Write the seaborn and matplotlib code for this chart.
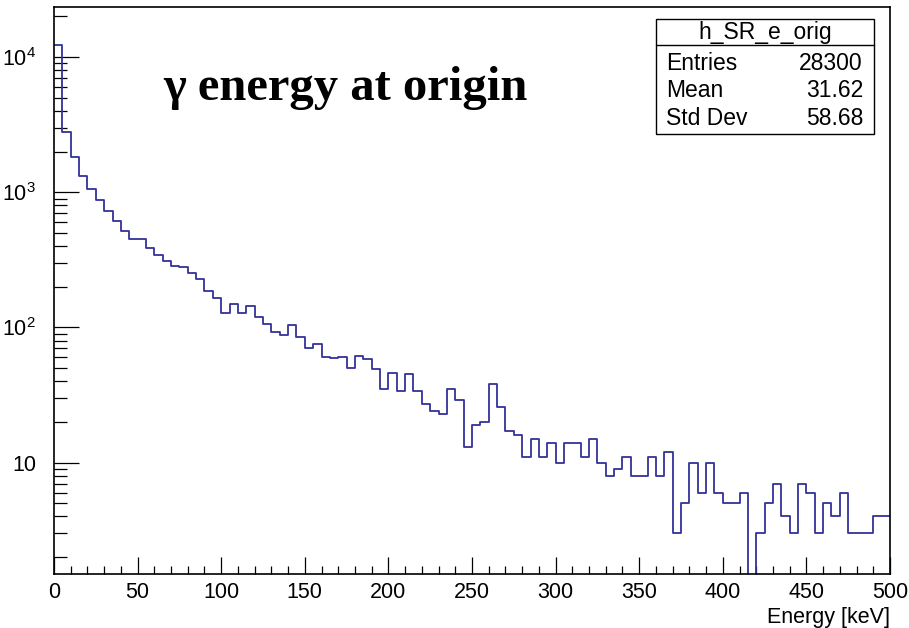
import numpy as np
import pandas as pd
import matplotlib
matplotlib.use("Agg")
import matplotlib.pyplot as plt
import seaborn as sns
from matplotlib.ticker import MultipleLocator, LogLocator, FixedLocator, FuncFormatter, NullFormatter
from matplotlib.patches import Rectangle
from matplotlib.lines import Line2D

# ---- data ----
bin_edges = list(range(0, 505, 5))  # 100 bins of 5 keV
counts = [12400, 2790, 1830, 1320, 1050, 870, 730, 615, 521, 448,
          455, 388, 345, 310, 286, 278, 252, 230, 185, 166,
          128, 150, 128, 145, 120, 106, 92, 88, 105, 85,
          71, 76, 60, 59, 60, 50, 62, 58, 49, 35,
          46, 34, 45, 34, 27, 24, 23, 35, 29, 13,
          19, 20, 38, 26, 17, 16, 11, 15, 11, 14,
          10, 14, 14, 11, 15, 10, 8, 9, 11, 8,
          8, 11, 8, 12, 3, 5, 10, 6, 10, 6,
          5, 5, 6, 0, 3, 5, 7, 4, 3, 7,
          6, 3, 5, 4, 6, 3, 3, 3, 4, 4]
title_text = "\u03b3 energy at origin"
stats_name = "h_SR_e_orig"
stats_labels = ["Entries", "Mean", "Std Dev"]
stats_values = ["28300", "31.62", "58.68"]
x_ticks = [0, 50, 100, 150, 200, 250, 300, 350, 400, 450, 500]
y_ticks = [10, 100, 1000, 10000]

edges = np.array(bin_edges, dtype=float)
centers = (edges[:-1] + edges[1:]) / 2
df = pd.DataFrame({"energy": centers, "n": np.array(counts, dtype=float)})

sns.set_theme(style="white")
plt.rcParams["font.family"] = ["Liberation Sans", "DejaVu Sans"]
plt.rcParams["mathtext.fontset"] = "custom"
plt.rcParams["mathtext.rm"] = "Liberation Sans"
plt.rcParams["mathtext.it"] = "Liberation Sans:italic"
plt.rcParams["mathtext.default"] = "regular"
for k in ["text.color", "axes.labelcolor", "xtick.color", "ytick.color",
          "xtick.labelcolor", "ytick.labelcolor"]:
    plt.rcParams[k] = "black"

W, H = 909, 628
fig = plt.figure(figsize=(W / 100, H / 100), dpi=100)
ax = fig.add_axes([54 / W, 1 - 574 / H, (890 - 54) / W, (574 - 7) / H])

sns.histplot(data=df, x="energy", weights="n", bins=bin_edges, element="step",
             fill=False, color="#333399", linewidth=1.3, ax=ax)
ax.set_yscale("log", nonpositive="clip")
ax.set_xlim(0, 500)
ax.set_ylim(1.5, 23500)

ax.set_ylabel("")
ax.set_xlabel("Energy [keV]", loc="right", fontsize=15.5, labelpad=3, color="black")

ax.xaxis.set_major_locator(FixedLocator(x_ticks))
ax.xaxis.set_minor_locator(MultipleLocator(10))
ax.yaxis.set_major_locator(FixedLocator(y_ticks))
ax.yaxis.set_minor_locator(LogLocator(base=10, subs=np.arange(2, 10)))
ax.yaxis.set_minor_formatter(NullFormatter())
ax.yaxis.set_major_formatter(FuncFormatter(
    lambda v, p: "10" if abs(v - 10) < 1e-6 else r"$10^{%d}$" % round(np.log10(v))))

ax.tick_params(axis="x", which="major", direction="in", length=12, width=0.9,
               labelsize=15.5, pad=6, bottom=True, top=False, color="black",
               labelcolor="black")
ax.tick_params(axis="x", which="minor", direction="in", length=6, width=0.9,
               bottom=True, top=False, color="black")
ax.tick_params(axis="y", which="major", direction="in", length=18, width=0.9,
               labelsize=15.5, pad=13, left=True, right=False, color="black",
               labelcolor="black")
ax.tick_params(axis="y", which="minor", direction="in", length=9, width=0.9,
               left=True, right=False, color="black")
for s in ax.spines.values():
    s.set_color("black")
    s.set_linewidth(1.2)
ax.grid(False)

# title text inside the plot
fig.text(163 / W, 1 - 88 / H, title_text, fontsize=35, fontweight="bold",
         family=["Liberation Serif", "DejaVu Serif"], ha="left", va="center",
         color="black")

# stats box
bx0, bx1, by0, by1 = 656, 874, 19, 134
fig.add_artist(Rectangle((bx0 / W, 1 - by1 / H), (bx1 - bx0) / W, (by1 - by0) / H,
                         transform=fig.transFigure, facecolor="white",
                         edgecolor="black", linewidth=1.0))
fig.add_artist(Line2D([bx0 / W, bx1 / W], [1 - 45 / H, 1 - 45 / H],
                      transform=fig.transFigure, color="black", linewidth=1.0))
fig.text((bx0 + bx1) / 2 / W, 1 - 32 / H, stats_name, fontsize=16.5,
         ha="center", va="center", color="black")
for i, (lab, val) in enumerate(zip(stats_labels, stats_values)):
    yy = 1 - (63 + 27.5 * i) / H
    fig.text(666 / W, yy, lab, fontsize=16.5, ha="left", va="center", color="black")
    fig.text(863 / W, yy, val, fontsize=16.5, ha="right", va="center", color="black")

fig.savefig("out.png", dpi=100)
